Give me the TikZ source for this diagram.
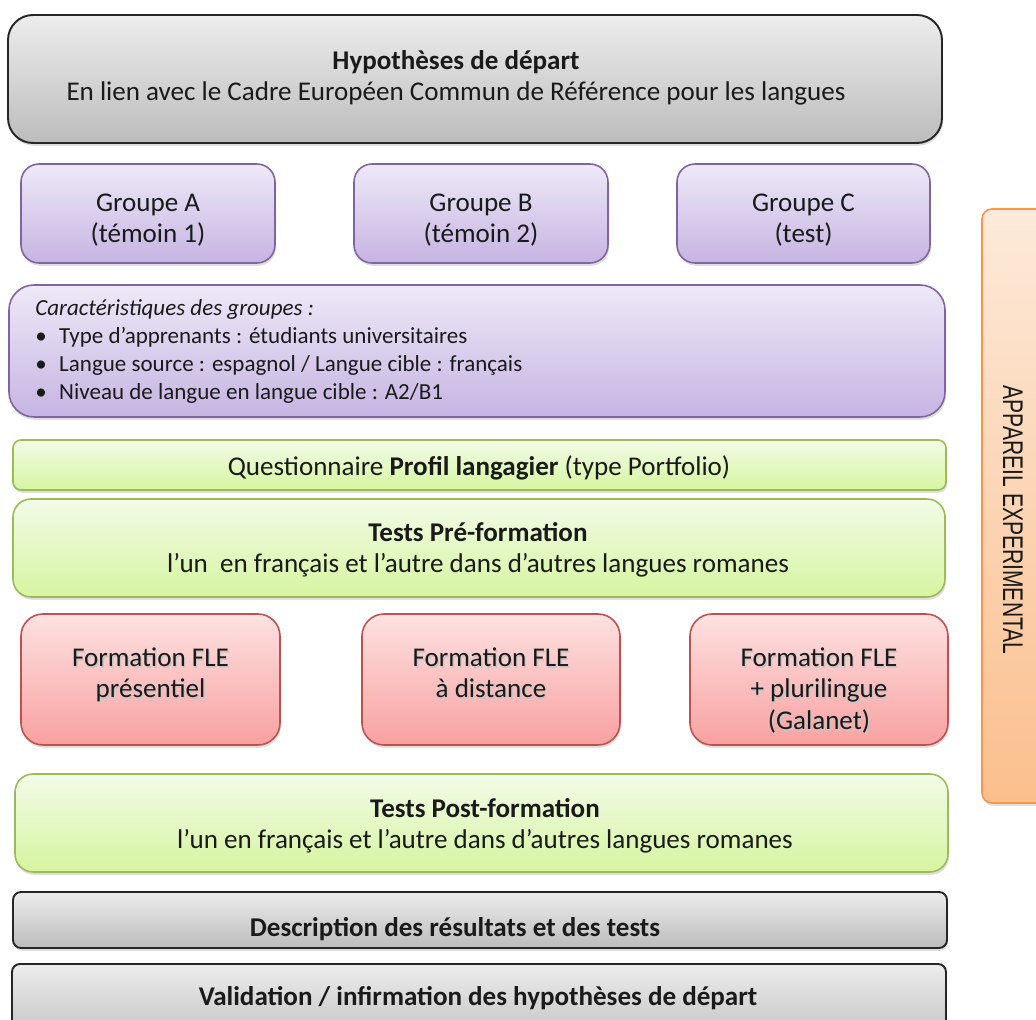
\documentclass[tikz,border=0pt]{standalone}
\usepackage{fontspec}
\setmainfont{Carlito}
\newfontfamily\arialfont{Liberation Sans}
\usetikzlibrary{positioning,calc,fit,shadows}

\definecolor{grisHaut}{HTML}{EDEDED}
\definecolor{grisBas}{HTML}{BCBCBC}
\definecolor{violetHaut}{HTML}{EEE9F8}
\definecolor{violetBas}{HTML}{C6B4E2}
\definecolor{violetBord}{HTML}{8064A2}
\definecolor{vertHaut}{HTML}{F2FBE8}
\definecolor{vertBas}{HTML}{D6F5A0}
\definecolor{vertBord}{HTML}{9BBB59}
\definecolor{rougeHaut}{HTML}{FEE2E2}
\definecolor{rougeBas}{HTML}{F9A0A0}
\definecolor{rougeBord}{HTML}{C0504D}
\definecolor{orangeHaut}{HTML}{FDEADA}
\definecolor{orangeBas}{HTML}{FBBF8D}
\definecolor{orangeBord}{HTML}{F79646}
\definecolor{texte}{HTML}{1A1A1A}

\newcommand{\puce}{\makebox[13.6pt][l]{\textbullet}}

\begin{document}
\begin{tikzpicture}[x=0.02cm,y=-0.02cm,
        every node/.style={text=texte,font=\fontsize{15.4}{18}\selectfont},
        boite/.style={draw,line width=0.9pt,inner sep=0pt,
          drop shadow={opacity=0.25,shadow xshift=0.6pt,shadow yshift=-1.6pt}},
        grisbox/.style={boite,draw=black!85,line width=1.1pt,top color=grisHaut,bottom color=grisBas},
        violetbox/.style={boite,draw=violetBord,top color=violetHaut,bottom color=violetBas,
          rounded corners=0.36cm},
        vertbox/.style={boite,draw=vertBord,top color=vertHaut,bottom color=vertBas},
        rougebox/.style={boite,draw=rougeBord,top color=rougeHaut,bottom color=rougeBas,
          rounded corners=0.44cm},
        orangebox/.style={boite,draw=orangeBord,top color=orangeHaut,bottom color=orangeBas,
          rounded corners=0.2cm},
        texteboite/.style={inner sep=0pt,align=center},
        ombre/.style={texteboite,text=black!22}]
    \useasboundingbox (0,0) rectangle (1036,1020);
    \clip (0,0) rectangle (1036,1020);

    % Hypotheses de depart
    \node[grisbox,rounded corners=0.5cm,fit={(8,15) (942,143)}] (hyp) {};
    \node[texteboite] (hyptxt) at (456,78)
      {\textbf{Hypothèses de départ}\\En lien avec le Cadre Européen Commun de Référence pour les langues};

    % Groupes A, B et C
    \foreach \nom/\xa/\xb/\txt in {grpA/21/275/{Groupe A\\(témoin 1)},
        grpB/354/608/{Groupe B\\(témoin 2)},grpC/677/930/{Groupe C\\(test)}} {
      \node[violetbox,fit={(\xa,164) (\xb,263)}] (\nom) {};
      \node[texteboite] (\nom txt) at (\nom.center |- 0,220) {\txt};
    }

    % Caracteristiques des groupes
    \node[violetbox,rounded corners=0.5cm,fit={(9,285) (945,417)}] (carac) {};
    \node[inner sep=0pt,anchor=north west,align=left,font=\fontsize{13.1}{16}\selectfont]
      (caractxt) at (35,299) {\textit{Caractéristiques des groupes :}\\
        \puce Type d'apprenants : étudiants universitaires\\
        \puce Langue source : espagnol / Langue cible : français\\
        \puce Niveau de langue en langue cible : A2/B1};

    % Questionnaire et tests pre-formation
    \node[vertbox,rounded corners=0.16cm,fit={(13,440) (946,490)}] (quest) {};
    \node[texteboite] (questtxt) at (479,468)
      {Questionnaire \textbf{Profil langagier} (type Portfolio)};
    \node[vertbox,rounded corners=0.36cm,fit={(13,499) (945,597)}] (pre) {};
    \node[texteboite] (pretxt) at (478,550)
      {\textbf{Tests Pré-formation}\\l'un\ \ en français et l'autre dans d'autres langues romanes};

    % Formations FLE (texte ombre)
    \foreach \nom/\xa/\xb/\txt in {fleA/21/280/{Formation FLE\\présentiel},
        fleB/362/620/{Formation FLE\\à distance},fleC/690/948/{Formation FLE\\+ plurilingue\\(Galanet)}} {
      \node[rougebox,fit={(\xa,614) (\xb,745)}] (\nom) {};
      \node[ombre,anchor=north] (\nom ombre) at ([xshift=0.8pt,yshift=-0.68cm-1pt]\nom.north) {\txt};
      \node[texteboite,anchor=north] (\nom txt) at ([yshift=-0.68cm]\nom.north) {\txt};
    }

    % Tests post-formation
    \node[vertbox,rounded corners=0.36cm,fit={(15,774) (948,872)}] (post) {};
    \node[texteboite] (posttxt) at (485,826)
      {\textbf{Tests Post-formation}\\l'un en français et l'autre dans d'autres langues romanes};

    % Resultats et validation
    \node[grisbox,rounded corners=0.16cm,fit={(13,892) (947,948)}] (desc) {};
    \node[texteboite] (desctxt) at (455,929) {\textbf{Description des résultats et des tests}};
    \node[grisbox,rounded corners=0.16cm,fit={(12,964) (946,1050)}] (valid) {};
    \node[texteboite] (validtxt) at (478,998) {\textbf{Validation / infirmation des hypothèses de départ}};

    % Appareil experimental
    \node[orangebox,fit={(982,209) (1080,803)}] (appareil) {};
    \node[texteboite,rotate=-90,font=\arialfont\fontsize{12}{14}\selectfont] (appareiltxt)
      at (1013,520) {\scalebox{1}[1.35]{APPAREIL EXPERIMENTAL}};
\end{tikzpicture}
\end{document}
